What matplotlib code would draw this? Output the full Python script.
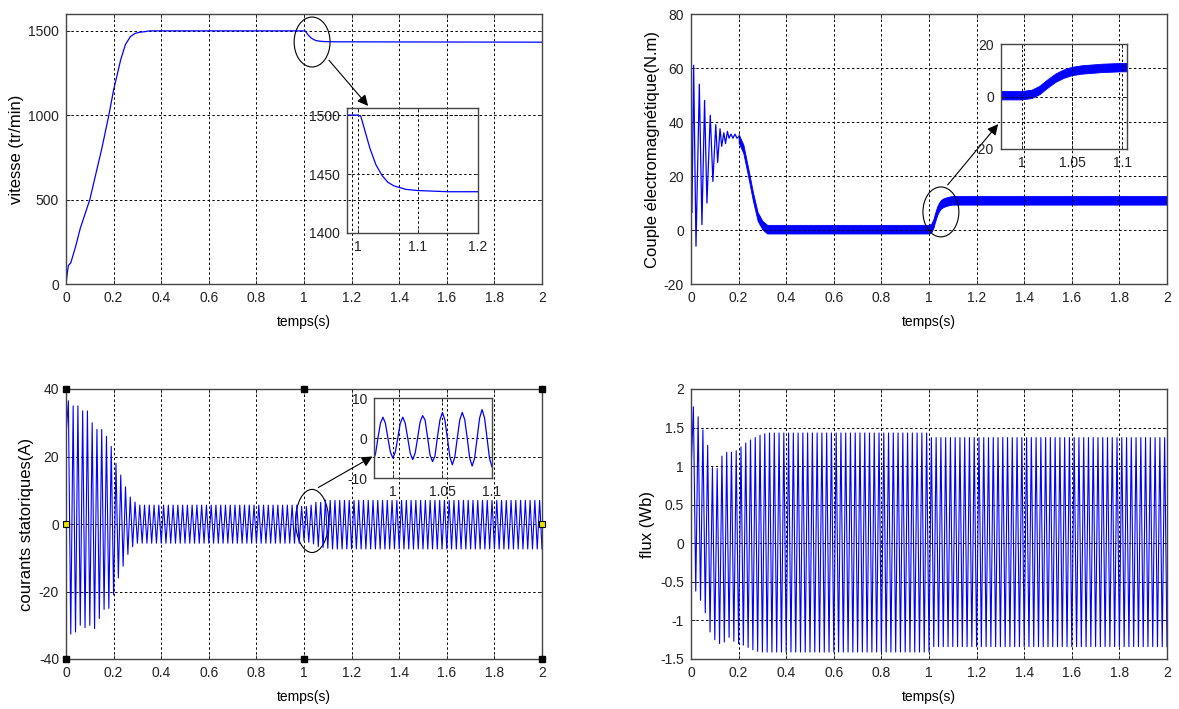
import numpy as np
import matplotlib
matplotlib.use("Agg")
import matplotlib.pyplot as plt
from matplotlib.patches import Ellipse
from matplotlib.ticker import FormatStrFormatter

# ---- données ----
# vitesse (tr/min)
vit_t = [0, 0.005, 0.01, 0.02, 0.04, 0.06, 0.1, 0.15, 0.18, 0.2, 0.23, 0.25, 0.27,
         0.29, 0.31, 0.33, 0.35, 1.0, 1.005, 1.01, 1.02, 1.03, 1.04, 1.05, 1.06,
         1.08, 1.1, 1.15, 1.2, 2.0]
vit = [0, 60, 110, 125, 220, 330, 500, 800, 1000, 1150, 1330, 1420, 1465,
       1485, 1492, 1495, 1500, 1500, 1499, 1490, 1472, 1458, 1449, 1443, 1440,
       1437, 1436, 1435, 1435, 1433]

# couple électromagnétique (N.m) : régime transitoire puis bande d'ondulation
cem_t = [0, 0.004, 0.011, 0.021, 0.035, 0.046, 0.057, 0.067, 0.081, 0.092, 0.104,
         0.112, 0.122, 0.129, 0.138, 0.145, 0.153, 0.16, 0.168, 0.176, 0.185, 0.193, 0.2]
cem = [7, 6.5, 61, -6, 54, 2, 48, 10, 42.5, 18, 39, 25, 37.5, 31, 36, 32, 36.5,
       34, 35.5, 34, 35.5, 34, 34.5]
band_t = [0.2, 0.22, 0.24, 0.26, 0.28, 0.30, 0.32, 0.34, 0.36, 0.98, 1.0, 1.01,
          1.018, 1.025, 1.034, 1.042, 1.05, 1.06, 1.07, 1.08, 1.1, 1.15, 2.0]
band_c = [34, 30, 21.5, 12.5, 5, 1.8, 0.3, 0.3, 0.3, 0.3, 0.3, 0.8,
          2.3, 4.5, 7.0, 8.5, 9.5, 10.1, 10.4, 10.7, 11.0, 11.0, 11.0]
band_hw = 1.6

# courants statoriques (A) : crêtes positives / négatives de chaque période
cur_t0 = 26
cur_max = ([36.5, 35, 35, 33.5, 33.5, 30, 28, 28, 26, 23, 18, 14.5, 11, 8, 6.5, 5.6]
           + [5.6] * 33 + [5.2, 5.2, 5.6, 6.4, 6.4, 7.1] + [7.0] * 45)
cur_min = ([-32.6, -32, -30, -30.7, -30, -31, -28, -25.3, -25, -21, -16, -12.5,
            -9, -6.7, -5.7, -5.7] + [-5.7] * 33
           + [-5.0, -5.4, -5.9, -6.7, -7.0, -7.2] + [-7.4] * 45)
# zoom du courant (0.98 -> 1.1 s, pas 2.5 ms)
zc_t0, zc_dt = 0.98, 0.0025
zoom_cur = [-5.7, -4.0, 0, 3.7, 5.2, 3.7, 0, -3.5, -5.0, -3.5, 0, 3.7, 5.2, 3.7, 0,
            -3.8, -5.4, -3.8, 0, 4.0, 5.6, 4.5, 0.2, -4.2, -5.9, -4.5, 0.3, 4.5,
            6.4, 4.5, 0, -4.7, -6.7, -4.8, 0, 4.5, 6.4, 4.6, 0, -5.0, -7.0, -5.0,
            0, 5.0, 7.1, 5.0, 0, -5.1, -7.2]

# flux (Wb)
flux_t0 = 0.9
flux_max = ([1.77, 1.64, 1.47, 1.27, 0.98, 0.97, 1.13, 1.18, 1.18, 1.2, 1.25, 1.3,
             1.34, 1.37, 1.4, 1.42] + [1.43] * 34 + [1.37] * 50)
flux_min = ([-0.62, -0.74, -0.9, -1.15, -1.25, -1.3, -1.28, -1.22, -1.27, -1.3,
             -1.32, -1.35, -1.38, -1.4, -1.41, -1.41] + [-1.41] * 34 + [-1.34] * 50)

period = 0.02


def zigzag(v0, vmax, vmin):
    k = np.arange(len(vmax)) * period
    t = np.column_stack([k + period / 2, k + period]).ravel()
    v = np.column_stack([vmax, vmin]).ravel()
    return np.r_[0, t], np.r_[v0, v]


cur_tt, cur_v = zigzag(cur_t0, cur_max, cur_min)
flux_tt, flux_v = zigzag(flux_t0, flux_max, flux_min)
zc_t = zc_t0 + np.arange(len(zoom_cur)) * zc_dt
band_lo = np.array(band_c) - band_hw
band_hi = np.array(band_c) + band_hw

# ---- style ----
W, H = 1179, 709
font = ['Liberation Sans', 'DejaVu Sans']
plt.rcParams['font.family'] = font
BLUE = '#0000ff'
GRID = dict(color='k', linestyle=(0, (2.5, 2.5)), linewidth=0.7)

fig = plt.figure(figsize=(W / 100, H / 100), dpi=100)


def box(x0, y0, x1, y1):
    return [x0 / W, 1 - y1 / H, (x1 - x0) / W, (y1 - y0) / H]


def style(ax, xlim, ylim, xticks, yticks, size=10):
    ax.set_xlim(*xlim)
    ax.set_ylim(*ylim)
    ax.set_xticks(xticks)
    ax.set_yticks(yticks)
    ax.xaxis.set_major_formatter(FormatStrFormatter('%g'))
    ax.yaxis.set_major_formatter(FormatStrFormatter('%g'))
    ax.grid(True, **GRID)
    ax.tick_params(direction='in', length=3, width=0.6, pad=5, colors='#222222',
                   labelsize=size, top=True, right=True)
    for s in ax.spines.values():
        s.set_color('#444444')
        s.set_linewidth(1.0)


def labels(ax, ytxt, yx):
    ax.set_xlabel('temps(s)', fontsize=10, labelpad=7)
    ax.set_ylabel(ytxt, fontsize=12)
    ax.yaxis.set_label_coords(yx, 0.5)


xt = np.arange(0, 2.01, 0.2)

# 1) vitesse
ax1 = fig.add_axes(box(66, 14, 542, 284))
ax1.plot(vit_t, vit, color=BLUE, lw=0.9)
style(ax1, (0, 2), (0, 1600), xt, [0, 500, 1000, 1500])
labels(ax1, 'vitesse (tr/min)', -0.088)
ax1.add_patch(Ellipse((1.034, 1434), 0.151, 296, fill=False, ec='k', lw=0.8))
ax1.annotate('', xy=(1.277, 1043), xytext=(1.097, 1339),
             arrowprops=dict(arrowstyle='-|>', mutation_scale=16, color='k', lw=0.8))
in1 = fig.add_axes(box(347, 108, 478, 233))
in1.set_facecolor('none')
in1.plot(vit_t, vit, color=BLUE, lw=0.9)
style(in1, (0.982, 1.2), (1400, 1506), [1, 1.1, 1.2], [1400, 1450, 1500])

# 2) couple
ax2 = fig.add_axes(box(691, 14, 1167, 284))
ax2.plot(cem_t, cem, color=BLUE, lw=0.9)
ax2.fill_between(band_t, band_lo, band_hi, color=BLUE, lw=0.6, ec=BLUE)
style(ax2, (0, 2), (-20, 80), xt, [-20, 0, 20, 40, 60, 80])
labels(ax2, 'Couple électromagnétique(N.m)', -0.066)
ax2.add_patch(Ellipse((1.05, 6.7), 0.151, 18.5, fill=False, ec='k', lw=0.8))
ax2.annotate('', xy=(1.298, 40), xytext=(1.071, 15.9),
             arrowprops=dict(arrowstyle='-|>', mutation_scale=16, color='k', lw=0.8))
in2 = fig.add_axes(box(1001, 44, 1127, 149))
in2.set_facecolor('none')
in2.fill_between(band_t, band_lo, band_hi, color=BLUE, lw=0.6, ec=BLUE)
style(in2, (0.979, 1.105), (-20, 20), [1, 1.05, 1.1], [-20, 0, 20])

# 3) courants
ax3 = fig.add_axes(box(66, 389, 542, 659))
ax3.plot(cur_tt, cur_v, color=BLUE, lw=0.8)
style(ax3, (0, 2), (-40, 40), xt, [-40, -20, 0, 20, 40])
labels(ax3, 'courants statoriques(A)', -0.067)
ax3.add_patch(Ellipse((1.034, 0.9), 0.139, 18.7, fill=False, ec='k', lw=0.8))
ax3.annotate('', xy=(1.298, 20.4), xytext=(1.05, 10.4),
             arrowprops=dict(arrowstyle='-|>', mutation_scale=16, color='k', lw=0.8))
hx = [0, 0.5, 1, 0, 0.5, 1]
hy = [0, 0, 0, 1, 1, 1]
ax3.plot(hx, hy, 's', ms=5, color='k', transform=ax3.transAxes, clip_on=False, zorder=5)
ax3.plot([0, 1], [0.5, 0.5], 's', ms=4, mfc='#e8e000', mec='k', mew=0.8,
         transform=ax3.transAxes, clip_on=False, zorder=5)
in3 = fig.add_axes(box(374, 398, 492, 478))
in3.set_facecolor('none')
in3.plot(zc_t, zoom_cur, color=BLUE, lw=0.9)
style(in3, (0.981, 1.1), (-10, 10), [1, 1.05, 1.1], [-10, 0, 10])

# 4) flux
ax4 = fig.add_axes(box(691, 389, 1167, 659))
ax4.plot(flux_tt, flux_v, color=BLUE, lw=0.8)
style(ax4, (0, 2), (-1.5, 2), xt, np.arange(-1.5, 2.01, 0.5))
labels(ax4, 'flux (Wb)', -0.076)

fig.savefig('out.png', dpi=100)
